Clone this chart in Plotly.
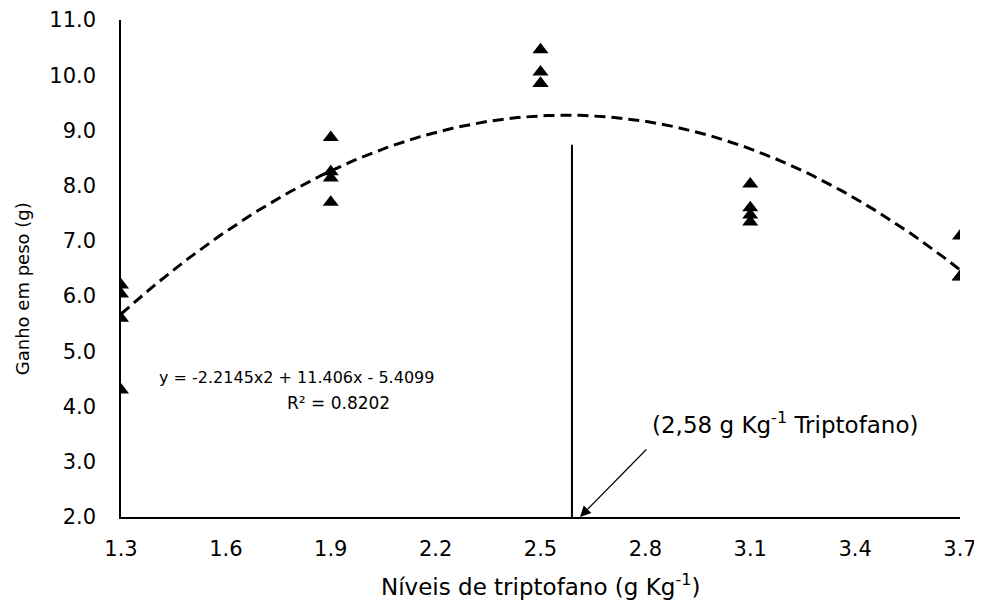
import numpy as np
import plotly.graph_objects as go

levels_x = [1.3, 1.3, 1.3, 1.3,
            1.9, 1.9, 1.9, 1.9,
            2.5, 2.5, 2.5, 2.5,
            3.1, 3.1, 3.1, 3.1,
            3.7, 3.7, 3.7, 3.7]
gain_y = [6.2, 6.04, 5.6, 4.3,
          8.87, 8.25, 8.14, 7.7,
          10.46, 10.06, 9.85, 9.85,
          8.03, 7.6, 7.47, 7.34,
          7.09, 6.35, 6.35, 6.35]

# Quadratic trendline coefficients (from the chart equation)
coef_a, coef_b, coef_c = -2.2145, 11.406, -5.4099
optimum_x = 2.59
optimum_top = 8.74

x_ticks = [1.3, 1.6, 1.9, 2.2, 2.5, 2.8, 3.1, 3.4, 3.7]
y_ticks = [2, 3, 4, 5, 6, 7, 8, 9, 10, 11]

xt = np.linspace(1.3, 3.7, 200)
yt = coef_a * xt**2 + coef_b * xt + coef_c

FONT = "DejaVu Sans, Verdana, sans-serif"

fig = go.Figure()
fig.add_trace(go.Scatter(
    x=xt, y=yt, mode="lines",
    line=dict(color="black", width=3, dash="11px,6px"),
    hoverinfo="skip", showlegend=False))
fig.add_trace(go.Scatter(
    x=[optimum_x, optimum_x], y=[2, optimum_top], mode="lines",
    line=dict(color="black", width=2), showlegend=False, hoverinfo="skip"))
fig.add_trace(go.Scatter(
    x=levels_x, y=gain_y, mode="markers",
    marker=dict(symbol="triangle-up", size=14, color="black"),
    showlegend=False))

fig.add_annotation(
    x=1.403, y=4.535, xref="x", yref="y", xanchor="left",
    text="y = -2.2145x2 + 11.406x - 5.4099",
    showarrow=False, font=dict(family=FONT, size=16, color="black"))
fig.add_annotation(
    x=2.075, y=4.06, xref="x", yref="y", xanchor="right",
    text="R² = 0.8202",
    showarrow=False, font=dict(family=FONT, size=17, color="black"))

fig.add_annotation(
    x=2.613, y=2.0, xref="x", yref="y",
    ax=2.807, ay=3.25, axref="x", ayref="y",
    text="", showarrow=True, arrowhead=2, arrowsize=1.8, arrowwidth=1.2,
    arrowcolor="black", standoff=0)

fig.add_annotation(
    x=3.199, y=3.70, xref="x", yref="y",
    text="(2,58 g Kg<sup>-1</sup> Triptofano)",
    showarrow=False,
    font=dict(family=FONT, size=23, color="black"))

# Axis titles
fig.add_annotation(
    x=0.5, y=-0.137, xref="paper", yref="paper",
    xanchor="center", yanchor="middle",
    text="Níveis de triptofano (g Kg<sup>-1</sup>)",
    showarrow=False, font=dict(family=FONT, size=23, color="black"))
fig.add_annotation(
    x=-0.117, y=0.46, xref="paper", yref="paper",
    xanchor="center", yanchor="middle", textangle=-90,
    text="Ganho em peso (g)",
    showarrow=False, font=dict(family=FONT, size=18, color="black"))

fig.update_layout(
    width=982, height=610,
    margin=dict(l=113, r=30, t=12, b=101, autoexpand=False),
    paper_bgcolor="white", plot_bgcolor="white",
    font=dict(family=FONT, size=22, color="black"),
    showlegend=False,
)
fig.update_xaxes(
    range=[1.3, 3.7], tickvals=x_ticks, tickformat=".1f",
    showgrid=False, zeroline=False, showline=True, linecolor="black",
    linewidth=1.5, ticks="", ticklabelstandoff=12, automargin=False,
    tickfont=dict(family=FONT, size=21),
)
fig.update_yaxes(
    range=[2, 11], tickvals=y_ticks, tickformat=".1f",
    showgrid=False, zeroline=False, showline=True, linecolor="black",
    linewidth=1.5, ticks="", ticklabelstandoff=19, automargin=False,
    tickfont=dict(family=FONT, size=21),
)

fig.write_html("out.html")
